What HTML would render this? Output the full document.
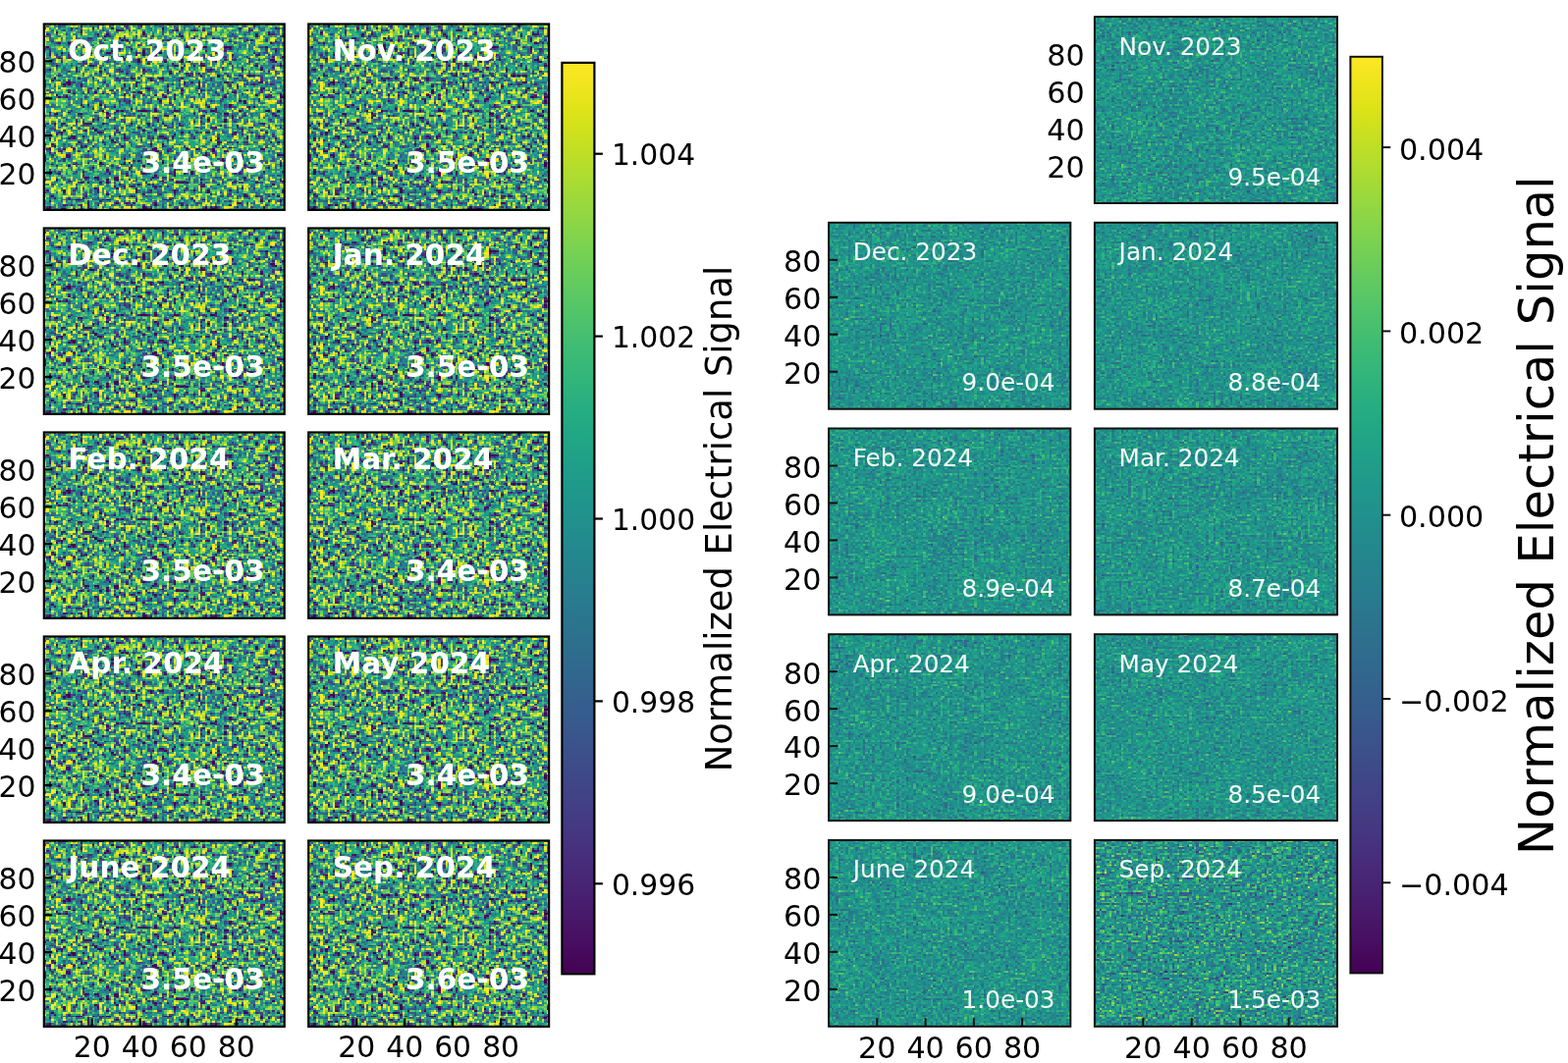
<!DOCTYPE html>
<html><head><meta charset="utf-8"><title>Normalized Electrical Signal</title>
<style>html,body{margin:0;padding:0;background:#fff;overflow:hidden}svg{display:block}</style></head><body>
<svg width="1597" height="1083" viewBox="0 0 1597 1083">
<defs><linearGradient id="slx" gradientUnits="userSpaceOnUse" x1="0" y1="0" x2="2.4490" y2="0" spreadMethod="repeat"><stop offset="0" stop-color="rgb(255,0,0)"/><stop offset="1" stop-color="rgb(0,0,0)"/></linearGradient>
<linearGradient id="sly" gradientUnits="userSpaceOnUse" x1="0" y1="0" x2="0" y2="1.8940" spreadMethod="repeat"><stop offset="0" stop-color="rgb(0,226,0)"/><stop offset="1" stop-color="rgb(0,29,0)"/></linearGradient><linearGradient id="srx" gradientUnits="userSpaceOnUse" x1="0" y1="0" x2="2.4660" y2="0" spreadMethod="repeat"><stop offset="0" stop-color="rgb(255,0,0)"/><stop offset="1" stop-color="rgb(0,0,0)"/></linearGradient>
<linearGradient id="sry" gradientUnits="userSpaceOnUse" x1="0" y1="0" x2="0" y2="1.8990" spreadMethod="repeat"><stop offset="0" stop-color="rgb(0,226,0)"/><stop offset="1" stop-color="rgb(0,29,0)"/></linearGradient><filter id="nl" x="0" y="0" width="244.9" height="189.4" filterUnits="userSpaceOnUse" color-interpolation-filters="sRGB">
<feTurbulence type="fractalNoise" baseFrequency="0.25 0.22" numOctaves="2" seed="7" result="n"/>
<feColorMatrix in="n" type="matrix" values="1 0 0 0 0  0 0 0 0 0  0 0 0 0 0  0 0 0 0 1" result="n1"/>
<feDisplacementMap in="n1" in2="SourceGraphic" scale="2.4490" xChannelSelector="R" yChannelSelector="G" result="d"/>
<feTurbulence type="fractalNoise" baseFrequency="0.03 0.04" numOctaves="2" seed="57" result="l"/>
<feColorMatrix in="l" type="matrix" values="0 0 0 0 0  1 0 0 0 0  0 0 0 0 0  0 0 0 0 1" result="l1"/>
<feComposite in="d" in2="l1" operator="arithmetic" k1="0" k2="1" k3="1" k4="0" result="c"/>
<feColorMatrix in="c" type="matrix" values="2.6 0.35 0 0 -0.9150  2.6 0.35 0 0 -0.9150  2.6 0.35 0 0 -0.9150  0 0 0 0 1"/>
<feComponentTransfer><feFuncR type="table" tableValues="0.267 0.277 0.282 0.283 0.279 0.271 0.259 0.245 0.230 0.214 0.199 0.186 0.173 0.161 0.149 0.138 0.128 0.121 0.121 0.132 0.158 0.197 0.246 0.304 0.369 0.440 0.516 0.596 0.678 0.762 0.846 0.926 0.993"/><feFuncG type="table" tableValues="0.005 0.050 0.095 0.136 0.175 0.214 0.252 0.288 0.322 0.356 0.388 0.419 0.449 0.479 0.508 0.537 0.567 0.596 0.626 0.655 0.684 0.712 0.739 0.765 0.789 0.811 0.831 0.849 0.864 0.876 0.887 0.897 0.906"/><feFuncB type="table" tableValues="0.329 0.376 0.417 0.453 0.483 0.507 0.525 0.537 0.546 0.551 0.555 0.557 0.558 0.558 0.557 0.555 0.551 0.544 0.533 0.520 0.502 0.479 0.452 0.420 0.383 0.341 0.294 0.243 0.190 0.137 0.100 0.104 0.144"/></feComponentTransfer><feGaussianBlur stdDeviation="0.3"/>
</filter><filter id="nr1" x="0" y="0" width="247.1" height="189.9" filterUnits="userSpaceOnUse" color-interpolation-filters="sRGB">
<feTurbulence type="fractalNoise" baseFrequency="0.29 0.37" numOctaves="2" seed="12" result="n"/>
<feColorMatrix in="n" type="matrix" values="1 0 0 0 0  0 0 0 0 0  0 0 0 0 0  0 0 0 0 1" result="n1"/>
<feDisplacementMap in="n1" in2="SourceGraphic" scale="2.4660" xChannelSelector="R" yChannelSelector="G" result="d"/>
<feTurbulence type="fractalNoise" baseFrequency="0.03 0.04" numOctaves="2" seed="62" result="l"/>
<feColorMatrix in="l" type="matrix" values="0 0 0 0 0  1 0 0 0 0  0 0 0 0 0  0 0 0 0 1" result="l1"/>
<feComposite in="d" in2="l1" operator="arithmetic" k1="0" k2="1" k3="1" k4="0" result="c"/>
<feColorMatrix in="c" type="matrix" values="0.718 0.12 0 0 0.0960  0.718 0.12 0 0 0.0960  0.718 0.12 0 0 0.0960  0 0 0 0 1"/>
<feComponentTransfer><feFuncR type="table" tableValues="0.267 0.277 0.282 0.283 0.279 0.271 0.259 0.245 0.230 0.214 0.199 0.186 0.173 0.161 0.149 0.138 0.128 0.121 0.121 0.132 0.158 0.197 0.246 0.304 0.369 0.440 0.516 0.596 0.678 0.762 0.846 0.926 0.993"/><feFuncG type="table" tableValues="0.005 0.050 0.095 0.136 0.175 0.214 0.252 0.288 0.322 0.356 0.388 0.419 0.449 0.479 0.508 0.537 0.567 0.596 0.626 0.655 0.684 0.712 0.739 0.765 0.789 0.811 0.831 0.849 0.864 0.876 0.887 0.897 0.906"/><feFuncB type="table" tableValues="0.329 0.376 0.417 0.453 0.483 0.507 0.525 0.537 0.546 0.551 0.555 0.557 0.558 0.558 0.557 0.555 0.551 0.544 0.533 0.520 0.502 0.479 0.452 0.420 0.383 0.341 0.294 0.243 0.190 0.137 0.100 0.104 0.144"/></feComponentTransfer><feGaussianBlur stdDeviation="0.6"/>
</filter><filter id="nr2" x="0" y="0" width="246.2" height="189.9" filterUnits="userSpaceOnUse" color-interpolation-filters="sRGB">
<feTurbulence type="fractalNoise" baseFrequency="0.29 0.37" numOctaves="2" seed="13" result="n"/>
<feColorMatrix in="n" type="matrix" values="1 0 0 0 0  0 0 0 0 0  0 0 0 0 0  0 0 0 0 1" result="n1"/>
<feDisplacementMap in="n1" in2="SourceGraphic" scale="2.4660" xChannelSelector="R" yChannelSelector="G" result="d"/>
<feTurbulence type="fractalNoise" baseFrequency="0.03 0.04" numOctaves="2" seed="63" result="l"/>
<feColorMatrix in="l" type="matrix" values="0 0 0 0 0  1 0 0 0 0  0 0 0 0 0  0 0 0 0 1" result="l1"/>
<feComposite in="d" in2="l1" operator="arithmetic" k1="0" k2="1" k3="1" k4="0" result="c"/>
<feColorMatrix in="c" type="matrix" values="0.68 0.12 0 0 0.1150  0.68 0.12 0 0 0.1150  0.68 0.12 0 0 0.1150  0 0 0 0 1"/>
<feComponentTransfer><feFuncR type="table" tableValues="0.267 0.277 0.282 0.283 0.279 0.271 0.259 0.245 0.230 0.214 0.199 0.186 0.173 0.161 0.149 0.138 0.128 0.121 0.121 0.132 0.158 0.197 0.246 0.304 0.369 0.440 0.516 0.596 0.678 0.762 0.846 0.926 0.993"/><feFuncG type="table" tableValues="0.005 0.050 0.095 0.136 0.175 0.214 0.252 0.288 0.322 0.356 0.388 0.419 0.449 0.479 0.508 0.537 0.567 0.596 0.626 0.655 0.684 0.712 0.739 0.765 0.789 0.811 0.831 0.849 0.864 0.876 0.887 0.897 0.906"/><feFuncB type="table" tableValues="0.329 0.376 0.417 0.453 0.483 0.507 0.525 0.537 0.546 0.551 0.555 0.557 0.558 0.558 0.557 0.555 0.551 0.544 0.533 0.520 0.502 0.479 0.452 0.420 0.383 0.341 0.294 0.243 0.190 0.137 0.100 0.104 0.144"/></feComponentTransfer><feGaussianBlur stdDeviation="0.6"/>
</filter><filter id="nr3" x="0" y="0" width="247.1" height="189.9" filterUnits="userSpaceOnUse" color-interpolation-filters="sRGB">
<feTurbulence type="fractalNoise" baseFrequency="0.29 0.37" numOctaves="2" seed="14" result="n"/>
<feColorMatrix in="n" type="matrix" values="1 0 0 0 0  0 0 0 0 0  0 0 0 0 0  0 0 0 0 1" result="n1"/>
<feDisplacementMap in="n1" in2="SourceGraphic" scale="2.4660" xChannelSelector="R" yChannelSelector="G" result="d"/>
<feTurbulence type="fractalNoise" baseFrequency="0.03 0.04" numOctaves="2" seed="64" result="l"/>
<feColorMatrix in="l" type="matrix" values="0 0 0 0 0  1 0 0 0 0  0 0 0 0 0  0 0 0 0 1" result="l1"/>
<feComposite in="d" in2="l1" operator="arithmetic" k1="0" k2="1" k3="1" k4="0" result="c"/>
<feColorMatrix in="c" type="matrix" values="0.665 0.12 0 0 0.1225  0.665 0.12 0 0 0.1225  0.665 0.12 0 0 0.1225  0 0 0 0 1"/>
<feComponentTransfer><feFuncR type="table" tableValues="0.267 0.277 0.282 0.283 0.279 0.271 0.259 0.245 0.230 0.214 0.199 0.186 0.173 0.161 0.149 0.138 0.128 0.121 0.121 0.132 0.158 0.197 0.246 0.304 0.369 0.440 0.516 0.596 0.678 0.762 0.846 0.926 0.993"/><feFuncG type="table" tableValues="0.005 0.050 0.095 0.136 0.175 0.214 0.252 0.288 0.322 0.356 0.388 0.419 0.449 0.479 0.508 0.537 0.567 0.596 0.626 0.655 0.684 0.712 0.739 0.765 0.789 0.811 0.831 0.849 0.864 0.876 0.887 0.897 0.906"/><feFuncB type="table" tableValues="0.329 0.376 0.417 0.453 0.483 0.507 0.525 0.537 0.546 0.551 0.555 0.557 0.558 0.558 0.557 0.555 0.551 0.544 0.533 0.520 0.502 0.479 0.452 0.420 0.383 0.341 0.294 0.243 0.190 0.137 0.100 0.104 0.144"/></feComponentTransfer><feGaussianBlur stdDeviation="0.6"/>
</filter><filter id="nr4" x="0" y="0" width="246.2" height="189.9" filterUnits="userSpaceOnUse" color-interpolation-filters="sRGB">
<feTurbulence type="fractalNoise" baseFrequency="0.29 0.37" numOctaves="2" seed="15" result="n"/>
<feColorMatrix in="n" type="matrix" values="1 0 0 0 0  0 0 0 0 0  0 0 0 0 0  0 0 0 0 1" result="n1"/>
<feDisplacementMap in="n1" in2="SourceGraphic" scale="2.4660" xChannelSelector="R" yChannelSelector="G" result="d"/>
<feTurbulence type="fractalNoise" baseFrequency="0.03 0.04" numOctaves="2" seed="65" result="l"/>
<feColorMatrix in="l" type="matrix" values="0 0 0 0 0  1 0 0 0 0  0 0 0 0 0  0 0 0 0 1" result="l1"/>
<feComposite in="d" in2="l1" operator="arithmetic" k1="0" k2="1" k3="1" k4="0" result="c"/>
<feColorMatrix in="c" type="matrix" values="0.672 0.12 0 0 0.1190  0.672 0.12 0 0 0.1190  0.672 0.12 0 0 0.1190  0 0 0 0 1"/>
<feComponentTransfer><feFuncR type="table" tableValues="0.267 0.277 0.282 0.283 0.279 0.271 0.259 0.245 0.230 0.214 0.199 0.186 0.173 0.161 0.149 0.138 0.128 0.121 0.121 0.132 0.158 0.197 0.246 0.304 0.369 0.440 0.516 0.596 0.678 0.762 0.846 0.926 0.993"/><feFuncG type="table" tableValues="0.005 0.050 0.095 0.136 0.175 0.214 0.252 0.288 0.322 0.356 0.388 0.419 0.449 0.479 0.508 0.537 0.567 0.596 0.626 0.655 0.684 0.712 0.739 0.765 0.789 0.811 0.831 0.849 0.864 0.876 0.887 0.897 0.906"/><feFuncB type="table" tableValues="0.329 0.376 0.417 0.453 0.483 0.507 0.525 0.537 0.546 0.551 0.555 0.557 0.558 0.558 0.557 0.555 0.551 0.544 0.533 0.520 0.502 0.479 0.452 0.420 0.383 0.341 0.294 0.243 0.190 0.137 0.100 0.104 0.144"/></feComponentTransfer><feGaussianBlur stdDeviation="0.6"/>
</filter><filter id="nr5" x="0" y="0" width="247.1" height="189.9" filterUnits="userSpaceOnUse" color-interpolation-filters="sRGB">
<feTurbulence type="fractalNoise" baseFrequency="0.29 0.37" numOctaves="2" seed="16" result="n"/>
<feColorMatrix in="n" type="matrix" values="1 0 0 0 0  0 0 0 0 0  0 0 0 0 0  0 0 0 0 1" result="n1"/>
<feDisplacementMap in="n1" in2="SourceGraphic" scale="2.4660" xChannelSelector="R" yChannelSelector="G" result="d"/>
<feTurbulence type="fractalNoise" baseFrequency="0.03 0.04" numOctaves="2" seed="66" result="l"/>
<feColorMatrix in="l" type="matrix" values="0 0 0 0 0  1 0 0 0 0  0 0 0 0 0  0 0 0 0 1" result="l1"/>
<feComposite in="d" in2="l1" operator="arithmetic" k1="0" k2="1" k3="1" k4="0" result="c"/>
<feColorMatrix in="c" type="matrix" values="0.657 0.12 0 0 0.1265  0.657 0.12 0 0 0.1265  0.657 0.12 0 0 0.1265  0 0 0 0 1"/>
<feComponentTransfer><feFuncR type="table" tableValues="0.267 0.277 0.282 0.283 0.279 0.271 0.259 0.245 0.230 0.214 0.199 0.186 0.173 0.161 0.149 0.138 0.128 0.121 0.121 0.132 0.158 0.197 0.246 0.304 0.369 0.440 0.516 0.596 0.678 0.762 0.846 0.926 0.993"/><feFuncG type="table" tableValues="0.005 0.050 0.095 0.136 0.175 0.214 0.252 0.288 0.322 0.356 0.388 0.419 0.449 0.479 0.508 0.537 0.567 0.596 0.626 0.655 0.684 0.712 0.739 0.765 0.789 0.811 0.831 0.849 0.864 0.876 0.887 0.897 0.906"/><feFuncB type="table" tableValues="0.329 0.376 0.417 0.453 0.483 0.507 0.525 0.537 0.546 0.551 0.555 0.557 0.558 0.558 0.557 0.555 0.551 0.544 0.533 0.520 0.502 0.479 0.452 0.420 0.383 0.341 0.294 0.243 0.190 0.137 0.100 0.104 0.144"/></feComponentTransfer><feGaussianBlur stdDeviation="0.6"/>
</filter><filter id="nr6" x="0" y="0" width="246.2" height="189.9" filterUnits="userSpaceOnUse" color-interpolation-filters="sRGB">
<feTurbulence type="fractalNoise" baseFrequency="0.29 0.37" numOctaves="2" seed="17" result="n"/>
<feColorMatrix in="n" type="matrix" values="1 0 0 0 0  0 0 0 0 0  0 0 0 0 0  0 0 0 0 1" result="n1"/>
<feDisplacementMap in="n1" in2="SourceGraphic" scale="2.4660" xChannelSelector="R" yChannelSelector="G" result="d"/>
<feTurbulence type="fractalNoise" baseFrequency="0.03 0.04" numOctaves="2" seed="67" result="l"/>
<feColorMatrix in="l" type="matrix" values="0 0 0 0 0  1 0 0 0 0  0 0 0 0 0  0 0 0 0 1" result="l1"/>
<feComposite in="d" in2="l1" operator="arithmetic" k1="0" k2="1" k3="1" k4="0" result="c"/>
<feColorMatrix in="c" type="matrix" values="0.68 0.12 0 0 0.1150  0.68 0.12 0 0 0.1150  0.68 0.12 0 0 0.1150  0 0 0 0 1"/>
<feComponentTransfer><feFuncR type="table" tableValues="0.267 0.277 0.282 0.283 0.279 0.271 0.259 0.245 0.230 0.214 0.199 0.186 0.173 0.161 0.149 0.138 0.128 0.121 0.121 0.132 0.158 0.197 0.246 0.304 0.369 0.440 0.516 0.596 0.678 0.762 0.846 0.926 0.993"/><feFuncG type="table" tableValues="0.005 0.050 0.095 0.136 0.175 0.214 0.252 0.288 0.322 0.356 0.388 0.419 0.449 0.479 0.508 0.537 0.567 0.596 0.626 0.655 0.684 0.712 0.739 0.765 0.789 0.811 0.831 0.849 0.864 0.876 0.887 0.897 0.906"/><feFuncB type="table" tableValues="0.329 0.376 0.417 0.453 0.483 0.507 0.525 0.537 0.546 0.551 0.555 0.557 0.558 0.558 0.557 0.555 0.551 0.544 0.533 0.520 0.502 0.479 0.452 0.420 0.383 0.341 0.294 0.243 0.190 0.137 0.100 0.104 0.144"/></feComponentTransfer><feGaussianBlur stdDeviation="0.6"/>
</filter><filter id="nr7" x="0" y="0" width="247.1" height="189.9" filterUnits="userSpaceOnUse" color-interpolation-filters="sRGB">
<feTurbulence type="fractalNoise" baseFrequency="0.29 0.37" numOctaves="2" seed="18" result="n"/>
<feColorMatrix in="n" type="matrix" values="1 0 0 0 0  0 0 0 0 0  0 0 0 0 0  0 0 0 0 1" result="n1"/>
<feDisplacementMap in="n1" in2="SourceGraphic" scale="2.4660" xChannelSelector="R" yChannelSelector="G" result="d"/>
<feTurbulence type="fractalNoise" baseFrequency="0.03 0.04" numOctaves="2" seed="68" result="l"/>
<feColorMatrix in="l" type="matrix" values="0 0 0 0 0  1 0 0 0 0  0 0 0 0 0  0 0 0 0 1" result="l1"/>
<feComposite in="d" in2="l1" operator="arithmetic" k1="0" k2="1" k3="1" k4="0" result="c"/>
<feColorMatrix in="c" type="matrix" values="0.642 0.12 0 0 0.1340  0.642 0.12 0 0 0.1340  0.642 0.12 0 0 0.1340  0 0 0 0 1"/>
<feComponentTransfer><feFuncR type="table" tableValues="0.267 0.277 0.282 0.283 0.279 0.271 0.259 0.245 0.230 0.214 0.199 0.186 0.173 0.161 0.149 0.138 0.128 0.121 0.121 0.132 0.158 0.197 0.246 0.304 0.369 0.440 0.516 0.596 0.678 0.762 0.846 0.926 0.993"/><feFuncG type="table" tableValues="0.005 0.050 0.095 0.136 0.175 0.214 0.252 0.288 0.322 0.356 0.388 0.419 0.449 0.479 0.508 0.537 0.567 0.596 0.626 0.655 0.684 0.712 0.739 0.765 0.789 0.811 0.831 0.849 0.864 0.876 0.887 0.897 0.906"/><feFuncB type="table" tableValues="0.329 0.376 0.417 0.453 0.483 0.507 0.525 0.537 0.546 0.551 0.555 0.557 0.558 0.558 0.557 0.555 0.551 0.544 0.533 0.520 0.502 0.479 0.452 0.420 0.383 0.341 0.294 0.243 0.190 0.137 0.100 0.104 0.144"/></feComponentTransfer><feGaussianBlur stdDeviation="0.6"/>
</filter><filter id="nr8" x="0" y="0" width="246.2" height="189.9" filterUnits="userSpaceOnUse" color-interpolation-filters="sRGB">
<feTurbulence type="fractalNoise" baseFrequency="0.29 0.37" numOctaves="2" seed="19" result="n"/>
<feColorMatrix in="n" type="matrix" values="1 0 0 0 0  0 0 0 0 0  0 0 0 0 0  0 0 0 0 1" result="n1"/>
<feDisplacementMap in="n1" in2="SourceGraphic" scale="2.4660" xChannelSelector="R" yChannelSelector="G" result="d"/>
<feTurbulence type="fractalNoise" baseFrequency="0.03 0.04" numOctaves="2" seed="69" result="l"/>
<feColorMatrix in="l" type="matrix" values="0 0 0 0 0  1 0 0 0 0  0 0 0 0 0  0 0 0 0 1" result="l1"/>
<feComposite in="d" in2="l1" operator="arithmetic" k1="0" k2="1" k3="1" k4="0" result="c"/>
<feColorMatrix in="c" type="matrix" values="0.756 0.12 0 0 0.0770  0.756 0.12 0 0 0.0770  0.756 0.12 0 0 0.0770  0 0 0 0 1"/>
<feComponentTransfer><feFuncR type="table" tableValues="0.267 0.277 0.282 0.283 0.279 0.271 0.259 0.245 0.230 0.214 0.199 0.186 0.173 0.161 0.149 0.138 0.128 0.121 0.121 0.132 0.158 0.197 0.246 0.304 0.369 0.440 0.516 0.596 0.678 0.762 0.846 0.926 0.993"/><feFuncG type="table" tableValues="0.005 0.050 0.095 0.136 0.175 0.214 0.252 0.288 0.322 0.356 0.388 0.419 0.449 0.479 0.508 0.537 0.567 0.596 0.626 0.655 0.684 0.712 0.739 0.765 0.789 0.811 0.831 0.849 0.864 0.876 0.887 0.897 0.906"/><feFuncB type="table" tableValues="0.329 0.376 0.417 0.453 0.483 0.507 0.525 0.537 0.546 0.551 0.555 0.557 0.558 0.558 0.557 0.555 0.551 0.544 0.533 0.520 0.502 0.479 0.452 0.420 0.383 0.341 0.294 0.243 0.190 0.137 0.100 0.104 0.144"/></feComponentTransfer><feGaussianBlur stdDeviation="0.6"/>
</filter><filter id="nr9" x="0" y="0" width="247.1" height="189.9" filterUnits="userSpaceOnUse" color-interpolation-filters="sRGB">
<feTurbulence type="fractalNoise" baseFrequency="0.29 0.37" numOctaves="2" seed="20" result="n"/>
<feColorMatrix in="n" type="matrix" values="1 0 0 0 0  0 0 0 0 0  0 0 0 0 0  0 0 0 0 1" result="n1"/>
<feDisplacementMap in="n1" in2="SourceGraphic" scale="2.4660" xChannelSelector="R" yChannelSelector="G" result="d"/>
<feTurbulence type="fractalNoise" baseFrequency="0.03 0.04" numOctaves="2" seed="70" result="l"/>
<feColorMatrix in="l" type="matrix" values="0 0 0 0 0  1 0 0 0 0  0 0 0 0 0  0 0 0 0 1" result="l1"/>
<feComposite in="d" in2="l1" operator="arithmetic" k1="0" k2="1" k3="1" k4="0" result="c"/>
<feColorMatrix in="c" type="matrix" values="1.133 0.12 0 0 -0.1115  1.133 0.12 0 0 -0.1115  1.133 0.12 0 0 -0.1115  0 0 0 0 1"/>
<feComponentTransfer><feFuncR type="table" tableValues="0.267 0.277 0.282 0.283 0.279 0.271 0.259 0.245 0.230 0.214 0.199 0.186 0.173 0.161 0.149 0.138 0.128 0.121 0.121 0.132 0.158 0.197 0.246 0.304 0.369 0.440 0.516 0.596 0.678 0.762 0.846 0.926 0.993"/><feFuncG type="table" tableValues="0.005 0.050 0.095 0.136 0.175 0.214 0.252 0.288 0.322 0.356 0.388 0.419 0.449 0.479 0.508 0.537 0.567 0.596 0.626 0.655 0.684 0.712 0.739 0.765 0.789 0.811 0.831 0.849 0.864 0.876 0.887 0.897 0.906"/><feFuncB type="table" tableValues="0.329 0.376 0.417 0.453 0.483 0.507 0.525 0.537 0.546 0.551 0.555 0.557 0.558 0.558 0.557 0.555 0.551 0.544 0.533 0.520 0.502 0.479 0.452 0.420 0.383 0.341 0.294 0.243 0.190 0.137 0.100 0.104 0.144"/></feComponentTransfer><feGaussianBlur stdDeviation="0.6"/>
</filter><linearGradient id="cb" x1="0" y1="0" x2="0" y2="1"><stop offset="0.0000" stop-color="#fde725"/><stop offset="0.0312" stop-color="#ece51b"/><stop offset="0.0625" stop-color="#d8e219"/><stop offset="0.0938" stop-color="#c2df23"/><stop offset="0.1250" stop-color="#addc30"/><stop offset="0.1562" stop-color="#98d83e"/><stop offset="0.1875" stop-color="#84d44b"/><stop offset="0.2188" stop-color="#70cf57"/><stop offset="0.2500" stop-color="#5ec962"/><stop offset="0.2812" stop-color="#4ec36b"/><stop offset="0.3125" stop-color="#3fbc73"/><stop offset="0.3438" stop-color="#32b67a"/><stop offset="0.3750" stop-color="#28ae80"/><stop offset="0.4062" stop-color="#22a785"/><stop offset="0.4375" stop-color="#1fa088"/><stop offset="0.4688" stop-color="#1f988b"/><stop offset="0.5000" stop-color="#21918c"/><stop offset="0.5312" stop-color="#23898e"/><stop offset="0.5625" stop-color="#26828e"/><stop offset="0.5938" stop-color="#297a8e"/><stop offset="0.6250" stop-color="#2c728e"/><stop offset="0.6562" stop-color="#2f6b8e"/><stop offset="0.6875" stop-color="#33638d"/><stop offset="0.7188" stop-color="#375b8d"/><stop offset="0.7500" stop-color="#3b528b"/><stop offset="0.7812" stop-color="#3e4989"/><stop offset="0.8125" stop-color="#424086"/><stop offset="0.8438" stop-color="#453781"/><stop offset="0.8750" stop-color="#472d7b"/><stop offset="0.9062" stop-color="#482374"/><stop offset="0.9375" stop-color="#48186a"/><stop offset="0.9688" stop-color="#470d60"/><stop offset="1.0000" stop-color="#440154"/></linearGradient></defs>
<g transform="translate(44.80,24.50)"><rect width="244.9" height="189.4" fill="#56966c"/><g filter="url(#nl)"><rect width="244.9" height="189.4" fill="url(#slx)"/><rect width="244.9" height="189.4" fill="url(#sly)" style="mix-blend-mode:screen"/></g><rect width="244.9" height="189.4" fill="none" stroke="#000" stroke-width="2.2"/></g>
<text x="69.3" y="62.0" font-family="'DejaVu Sans','Liberation Sans',sans-serif" font-weight="bold" font-size="29.6" fill="#fff">Oct. 2023</text>
<text x="269.5" y="176.1" font-family="'DejaVu Sans','Liberation Sans',sans-serif" font-weight="bold" font-size="29.6" fill="#fff" text-anchor="end">3.4e-03</text>
<line x1="44.8" x2="53.2" y1="176.0" y2="176.0" stroke="#000" stroke-width="2.2"/>
<text x="36.5" y="187.5" font-family="'DejaVu Sans','Liberation Sans',sans-serif" font-size="29.8" text-anchor="end">20</text>
<line x1="44.8" x2="53.2" y1="138.1" y2="138.1" stroke="#000" stroke-width="2.2"/>
<text x="36.5" y="149.6" font-family="'DejaVu Sans','Liberation Sans',sans-serif" font-size="29.8" text-anchor="end">40</text>
<line x1="44.8" x2="53.2" y1="100.3" y2="100.3" stroke="#000" stroke-width="2.2"/>
<text x="36.5" y="111.8" font-family="'DejaVu Sans','Liberation Sans',sans-serif" font-size="29.8" text-anchor="end">60</text>
<line x1="44.8" x2="53.2" y1="62.4" y2="62.4" stroke="#000" stroke-width="2.2"/>
<text x="36.5" y="73.9" font-family="'DejaVu Sans','Liberation Sans',sans-serif" font-size="29.8" text-anchor="end">80</text>
<g transform="translate(314.20,24.50)"><rect width="244.9" height="189.4" fill="#56966c"/><g filter="url(#nl)"><rect width="244.9" height="189.4" fill="url(#slx)"/><rect width="244.9" height="189.4" fill="url(#sly)" style="mix-blend-mode:screen"/></g><rect width="244.9" height="189.4" fill="none" stroke="#000" stroke-width="2.2"/></g>
<text x="338.7" y="62.0" font-family="'DejaVu Sans','Liberation Sans',sans-serif" font-weight="bold" font-size="29.6" fill="#fff">Nov. 2023</text>
<text x="538.9" y="176.1" font-family="'DejaVu Sans','Liberation Sans',sans-serif" font-weight="bold" font-size="29.6" fill="#fff" text-anchor="end">3.5e-03</text>
<g transform="translate(44.80,232.50)"><rect width="244.9" height="189.4" fill="#56966c"/><g filter="url(#nl)"><rect width="244.9" height="189.4" fill="url(#slx)"/><rect width="244.9" height="189.4" fill="url(#sly)" style="mix-blend-mode:screen"/></g><rect width="244.9" height="189.4" fill="none" stroke="#000" stroke-width="2.2"/></g>
<text x="69.3" y="270.0" font-family="'DejaVu Sans','Liberation Sans',sans-serif" font-weight="bold" font-size="29.6" fill="#fff">Dec. 2023</text>
<text x="269.5" y="384.1" font-family="'DejaVu Sans','Liberation Sans',sans-serif" font-weight="bold" font-size="29.6" fill="#fff" text-anchor="end">3.5e-03</text>
<line x1="44.8" x2="53.2" y1="384.0" y2="384.0" stroke="#000" stroke-width="2.2"/>
<text x="36.5" y="395.5" font-family="'DejaVu Sans','Liberation Sans',sans-serif" font-size="29.8" text-anchor="end">20</text>
<line x1="44.8" x2="53.2" y1="346.1" y2="346.1" stroke="#000" stroke-width="2.2"/>
<text x="36.5" y="357.6" font-family="'DejaVu Sans','Liberation Sans',sans-serif" font-size="29.8" text-anchor="end">40</text>
<line x1="44.8" x2="53.2" y1="308.3" y2="308.3" stroke="#000" stroke-width="2.2"/>
<text x="36.5" y="319.8" font-family="'DejaVu Sans','Liberation Sans',sans-serif" font-size="29.8" text-anchor="end">60</text>
<line x1="44.8" x2="53.2" y1="270.4" y2="270.4" stroke="#000" stroke-width="2.2"/>
<text x="36.5" y="281.9" font-family="'DejaVu Sans','Liberation Sans',sans-serif" font-size="29.8" text-anchor="end">80</text>
<g transform="translate(314.20,232.50)"><rect width="244.9" height="189.4" fill="#56966c"/><g filter="url(#nl)"><rect width="244.9" height="189.4" fill="url(#slx)"/><rect width="244.9" height="189.4" fill="url(#sly)" style="mix-blend-mode:screen"/></g><rect width="244.9" height="189.4" fill="none" stroke="#000" stroke-width="2.2"/></g>
<text x="338.7" y="270.0" font-family="'DejaVu Sans','Liberation Sans',sans-serif" font-weight="bold" font-size="29.6" fill="#fff">Jan. 2024</text>
<text x="538.9" y="384.1" font-family="'DejaVu Sans','Liberation Sans',sans-serif" font-weight="bold" font-size="29.6" fill="#fff" text-anchor="end">3.5e-03</text>
<g transform="translate(44.80,440.50)"><rect width="244.9" height="189.4" fill="#56966c"/><g filter="url(#nl)"><rect width="244.9" height="189.4" fill="url(#slx)"/><rect width="244.9" height="189.4" fill="url(#sly)" style="mix-blend-mode:screen"/></g><rect width="244.9" height="189.4" fill="none" stroke="#000" stroke-width="2.2"/></g>
<text x="69.3" y="478.0" font-family="'DejaVu Sans','Liberation Sans',sans-serif" font-weight="bold" font-size="29.6" fill="#fff">Feb. 2024</text>
<text x="269.5" y="592.1" font-family="'DejaVu Sans','Liberation Sans',sans-serif" font-weight="bold" font-size="29.6" fill="#fff" text-anchor="end">3.5e-03</text>
<line x1="44.8" x2="53.2" y1="592.0" y2="592.0" stroke="#000" stroke-width="2.2"/>
<text x="36.5" y="603.5" font-family="'DejaVu Sans','Liberation Sans',sans-serif" font-size="29.8" text-anchor="end">20</text>
<line x1="44.8" x2="53.2" y1="554.1" y2="554.1" stroke="#000" stroke-width="2.2"/>
<text x="36.5" y="565.6" font-family="'DejaVu Sans','Liberation Sans',sans-serif" font-size="29.8" text-anchor="end">40</text>
<line x1="44.8" x2="53.2" y1="516.3" y2="516.3" stroke="#000" stroke-width="2.2"/>
<text x="36.5" y="527.8" font-family="'DejaVu Sans','Liberation Sans',sans-serif" font-size="29.8" text-anchor="end">60</text>
<line x1="44.8" x2="53.2" y1="478.4" y2="478.4" stroke="#000" stroke-width="2.2"/>
<text x="36.5" y="489.9" font-family="'DejaVu Sans','Liberation Sans',sans-serif" font-size="29.8" text-anchor="end">80</text>
<g transform="translate(314.20,440.50)"><rect width="244.9" height="189.4" fill="#56966c"/><g filter="url(#nl)"><rect width="244.9" height="189.4" fill="url(#slx)"/><rect width="244.9" height="189.4" fill="url(#sly)" style="mix-blend-mode:screen"/></g><rect width="244.9" height="189.4" fill="none" stroke="#000" stroke-width="2.2"/></g>
<text x="338.7" y="478.0" font-family="'DejaVu Sans','Liberation Sans',sans-serif" font-weight="bold" font-size="29.6" fill="#fff">Mar. 2024</text>
<text x="538.9" y="592.1" font-family="'DejaVu Sans','Liberation Sans',sans-serif" font-weight="bold" font-size="29.6" fill="#fff" text-anchor="end">3.4e-03</text>
<g transform="translate(44.80,648.50)"><rect width="244.9" height="189.4" fill="#56966c"/><g filter="url(#nl)"><rect width="244.9" height="189.4" fill="url(#slx)"/><rect width="244.9" height="189.4" fill="url(#sly)" style="mix-blend-mode:screen"/></g><rect width="244.9" height="189.4" fill="none" stroke="#000" stroke-width="2.2"/></g>
<text x="69.3" y="686.0" font-family="'DejaVu Sans','Liberation Sans',sans-serif" font-weight="bold" font-size="29.6" fill="#fff">Apr. 2024</text>
<text x="269.5" y="800.1" font-family="'DejaVu Sans','Liberation Sans',sans-serif" font-weight="bold" font-size="29.6" fill="#fff" text-anchor="end">3.4e-03</text>
<line x1="44.8" x2="53.2" y1="800.0" y2="800.0" stroke="#000" stroke-width="2.2"/>
<text x="36.5" y="811.5" font-family="'DejaVu Sans','Liberation Sans',sans-serif" font-size="29.8" text-anchor="end">20</text>
<line x1="44.8" x2="53.2" y1="762.1" y2="762.1" stroke="#000" stroke-width="2.2"/>
<text x="36.5" y="773.6" font-family="'DejaVu Sans','Liberation Sans',sans-serif" font-size="29.8" text-anchor="end">40</text>
<line x1="44.8" x2="53.2" y1="724.3" y2="724.3" stroke="#000" stroke-width="2.2"/>
<text x="36.5" y="735.8" font-family="'DejaVu Sans','Liberation Sans',sans-serif" font-size="29.8" text-anchor="end">60</text>
<line x1="44.8" x2="53.2" y1="686.4" y2="686.4" stroke="#000" stroke-width="2.2"/>
<text x="36.5" y="697.9" font-family="'DejaVu Sans','Liberation Sans',sans-serif" font-size="29.8" text-anchor="end">80</text>
<g transform="translate(314.20,648.50)"><rect width="244.9" height="189.4" fill="#56966c"/><g filter="url(#nl)"><rect width="244.9" height="189.4" fill="url(#slx)"/><rect width="244.9" height="189.4" fill="url(#sly)" style="mix-blend-mode:screen"/></g><rect width="244.9" height="189.4" fill="none" stroke="#000" stroke-width="2.2"/></g>
<text x="338.7" y="686.0" font-family="'DejaVu Sans','Liberation Sans',sans-serif" font-weight="bold" font-size="29.6" fill="#fff">May 2024</text>
<text x="538.9" y="800.1" font-family="'DejaVu Sans','Liberation Sans',sans-serif" font-weight="bold" font-size="29.6" fill="#fff" text-anchor="end">3.4e-03</text>
<g transform="translate(44.80,856.50)"><rect width="244.9" height="189.4" fill="#56966c"/><g filter="url(#nl)"><rect width="244.9" height="189.4" fill="url(#slx)"/><rect width="244.9" height="189.4" fill="url(#sly)" style="mix-blend-mode:screen"/></g><rect width="244.9" height="189.4" fill="none" stroke="#000" stroke-width="2.2"/></g>
<text x="69.3" y="894.0" font-family="'DejaVu Sans','Liberation Sans',sans-serif" font-weight="bold" font-size="29.6" fill="#fff">June 2024</text>
<text x="269.5" y="1008.1" font-family="'DejaVu Sans','Liberation Sans',sans-serif" font-weight="bold" font-size="29.6" fill="#fff" text-anchor="end">3.5e-03</text>
<line x1="44.8" x2="53.2" y1="1008.0" y2="1008.0" stroke="#000" stroke-width="2.2"/>
<text x="36.5" y="1019.5" font-family="'DejaVu Sans','Liberation Sans',sans-serif" font-size="29.8" text-anchor="end">20</text>
<line x1="44.8" x2="53.2" y1="970.1" y2="970.1" stroke="#000" stroke-width="2.2"/>
<text x="36.5" y="981.6" font-family="'DejaVu Sans','Liberation Sans',sans-serif" font-size="29.8" text-anchor="end">40</text>
<line x1="44.8" x2="53.2" y1="932.3" y2="932.3" stroke="#000" stroke-width="2.2"/>
<text x="36.5" y="943.8" font-family="'DejaVu Sans','Liberation Sans',sans-serif" font-size="29.8" text-anchor="end">60</text>
<line x1="44.8" x2="53.2" y1="894.4" y2="894.4" stroke="#000" stroke-width="2.2"/>
<text x="36.5" y="905.9" font-family="'DejaVu Sans','Liberation Sans',sans-serif" font-size="29.8" text-anchor="end">80</text>
<line x1="93.8" x2="93.8" y1="1045.9" y2="1037.5" stroke="#000" stroke-width="2.2"/>
<text x="93.8" y="1077.2" font-family="'DejaVu Sans','Liberation Sans',sans-serif" font-size="29.8" text-anchor="middle">20</text>
<line x1="142.8" x2="142.8" y1="1045.9" y2="1037.5" stroke="#000" stroke-width="2.2"/>
<text x="142.8" y="1077.2" font-family="'DejaVu Sans','Liberation Sans',sans-serif" font-size="29.8" text-anchor="middle">40</text>
<line x1="191.7" x2="191.7" y1="1045.9" y2="1037.5" stroke="#000" stroke-width="2.2"/>
<text x="191.7" y="1077.2" font-family="'DejaVu Sans','Liberation Sans',sans-serif" font-size="29.8" text-anchor="middle">60</text>
<line x1="240.7" x2="240.7" y1="1045.9" y2="1037.5" stroke="#000" stroke-width="2.2"/>
<text x="240.7" y="1077.2" font-family="'DejaVu Sans','Liberation Sans',sans-serif" font-size="29.8" text-anchor="middle">80</text>
<g transform="translate(314.20,856.50)"><rect width="244.9" height="189.4" fill="#56966c"/><g filter="url(#nl)"><rect width="244.9" height="189.4" fill="url(#slx)"/><rect width="244.9" height="189.4" fill="url(#sly)" style="mix-blend-mode:screen"/></g><rect width="244.9" height="189.4" fill="none" stroke="#000" stroke-width="2.2"/></g>
<text x="338.7" y="894.0" font-family="'DejaVu Sans','Liberation Sans',sans-serif" font-weight="bold" font-size="29.6" fill="#fff">Sep. 2024</text>
<text x="538.9" y="1008.1" font-family="'DejaVu Sans','Liberation Sans',sans-serif" font-weight="bold" font-size="29.6" fill="#fff" text-anchor="end">3.6e-03</text>
<line x1="363.2" x2="363.2" y1="1045.9" y2="1037.5" stroke="#000" stroke-width="2.2"/>
<text x="363.2" y="1077.2" font-family="'DejaVu Sans','Liberation Sans',sans-serif" font-size="29.8" text-anchor="middle">20</text>
<line x1="412.2" x2="412.2" y1="1045.9" y2="1037.5" stroke="#000" stroke-width="2.2"/>
<text x="412.2" y="1077.2" font-family="'DejaVu Sans','Liberation Sans',sans-serif" font-size="29.8" text-anchor="middle">40</text>
<line x1="461.1" x2="461.1" y1="1045.9" y2="1037.5" stroke="#000" stroke-width="2.2"/>
<text x="461.1" y="1077.2" font-family="'DejaVu Sans','Liberation Sans',sans-serif" font-size="29.8" text-anchor="middle">60</text>
<line x1="510.1" x2="510.1" y1="1045.9" y2="1037.5" stroke="#000" stroke-width="2.2"/>
<text x="510.1" y="1077.2" font-family="'DejaVu Sans','Liberation Sans',sans-serif" font-size="29.8" text-anchor="middle">80</text>
<rect x="572.4" y="63.9" width="33.0" height="928.4" fill="url(#cb)" stroke="#000" stroke-width="2.2"/>
<line x1="605.4" x2="613.9" y1="156.7" y2="156.7" stroke="#000" stroke-width="2.2"/>
<text x="622.9" y="168.0" font-family="'DejaVu Sans','Liberation Sans',sans-serif" font-size="29.8">1.004</text>
<line x1="605.4" x2="613.9" y1="342.6" y2="342.6" stroke="#000" stroke-width="2.2"/>
<text x="622.9" y="353.9" font-family="'DejaVu Sans','Liberation Sans',sans-serif" font-size="29.8">1.002</text>
<line x1="605.4" x2="613.9" y1="528.5" y2="528.5" stroke="#000" stroke-width="2.2"/>
<text x="622.9" y="539.8" font-family="'DejaVu Sans','Liberation Sans',sans-serif" font-size="29.8">1.000</text>
<line x1="605.4" x2="613.9" y1="714.4" y2="714.4" stroke="#000" stroke-width="2.2"/>
<text x="622.9" y="725.7" font-family="'DejaVu Sans','Liberation Sans',sans-serif" font-size="29.8">0.998</text>
<line x1="605.4" x2="613.9" y1="900.3" y2="900.3" stroke="#000" stroke-width="2.2"/>
<text x="622.9" y="911.6" font-family="'DejaVu Sans','Liberation Sans',sans-serif" font-size="29.8">0.996</text>
<text transform="translate(745,528.55) rotate(-90)" font-family="'DejaVu Sans','Liberation Sans',sans-serif" font-size="36.9" text-anchor="middle">Normalized Electrical Signal</text>
<g transform="translate(1114.90,17.10)"><rect width="247.1" height="189.9" fill="#26948a"/><g filter="url(#nr1)"><rect width="247.1" height="189.9" fill="url(#srx)"/><rect width="247.1" height="189.9" fill="url(#sry)" style="mix-blend-mode:screen"/></g><rect width="247.1" height="189.9" fill="none" stroke="#111" stroke-width="2.0"/></g>
<text transform="translate(1139.6,55.6) scale(1.03,1)" font-family="'DejaVu Sans','Liberation Sans',sans-serif" font-size="24" fill="#f4fbf6">Nov. 2023</text>
<text transform="translate(1345.3,188.6) scale(1.03,1)" font-family="'DejaVu Sans','Liberation Sans',sans-serif" font-size="24" text-anchor="end" fill="#f4fbf6">9.5e-04</text>
<text x="1104.6" y="181.3" font-family="'DejaVu Sans','Liberation Sans',sans-serif" font-size="30.2" text-anchor="end">20</text>
<text x="1104.6" y="143.3" font-family="'DejaVu Sans','Liberation Sans',sans-serif" font-size="30.2" text-anchor="end">40</text>
<text x="1104.6" y="105.4" font-family="'DejaVu Sans','Liberation Sans',sans-serif" font-size="30.2" text-anchor="end">60</text>
<text x="1104.6" y="67.4" font-family="'DejaVu Sans','Liberation Sans',sans-serif" font-size="30.2" text-anchor="end">80</text>
<g transform="translate(844.10,226.80)"><rect width="246.2" height="189.9" fill="#26948a"/><g filter="url(#nr2)"><rect width="246.2" height="189.9" fill="url(#srx)"/><rect width="246.2" height="189.9" fill="url(#sry)" style="mix-blend-mode:screen"/></g><rect width="246.2" height="189.9" fill="none" stroke="#111" stroke-width="2.0"/></g>
<text transform="translate(868.7,265.3) scale(1.03,1)" font-family="'DejaVu Sans','Liberation Sans',sans-serif" font-size="24" fill="#f4fbf6">Dec. 2023</text>
<text transform="translate(1074.5,398.3) scale(1.03,1)" font-family="'DejaVu Sans','Liberation Sans',sans-serif" font-size="24" text-anchor="end" fill="#f4fbf6">9.0e-04</text>
<line x1="844.1" x2="853.1" y1="378.7" y2="378.7" stroke="#111" stroke-width="2"/>
<text x="836.4" y="391.0" font-family="'DejaVu Sans','Liberation Sans',sans-serif" font-size="30.2" text-anchor="end">20</text>
<line x1="844.1" x2="853.1" y1="340.7" y2="340.7" stroke="#111" stroke-width="2"/>
<text x="836.4" y="353.0" font-family="'DejaVu Sans','Liberation Sans',sans-serif" font-size="30.2" text-anchor="end">40</text>
<line x1="844.1" x2="853.1" y1="302.8" y2="302.8" stroke="#111" stroke-width="2"/>
<text x="836.4" y="315.1" font-family="'DejaVu Sans','Liberation Sans',sans-serif" font-size="30.2" text-anchor="end">60</text>
<line x1="844.1" x2="853.1" y1="264.8" y2="264.8" stroke="#111" stroke-width="2"/>
<text x="836.4" y="277.1" font-family="'DejaVu Sans','Liberation Sans',sans-serif" font-size="30.2" text-anchor="end">80</text>
<g transform="translate(1114.90,226.80)"><rect width="247.1" height="189.9" fill="#26948a"/><g filter="url(#nr3)"><rect width="247.1" height="189.9" fill="url(#srx)"/><rect width="247.1" height="189.9" fill="url(#sry)" style="mix-blend-mode:screen"/></g><rect width="247.1" height="189.9" fill="none" stroke="#111" stroke-width="2.0"/></g>
<text transform="translate(1139.6,265.3) scale(1.03,1)" font-family="'DejaVu Sans','Liberation Sans',sans-serif" font-size="24" fill="#f4fbf6">Jan. 2024</text>
<text transform="translate(1345.3,398.3) scale(1.03,1)" font-family="'DejaVu Sans','Liberation Sans',sans-serif" font-size="24" text-anchor="end" fill="#f4fbf6">8.8e-04</text>
<g transform="translate(844.10,436.50)"><rect width="246.2" height="189.9" fill="#26948a"/><g filter="url(#nr4)"><rect width="246.2" height="189.9" fill="url(#srx)"/><rect width="246.2" height="189.9" fill="url(#sry)" style="mix-blend-mode:screen"/></g><rect width="246.2" height="189.9" fill="none" stroke="#111" stroke-width="2.0"/></g>
<text transform="translate(868.7,475.0) scale(1.03,1)" font-family="'DejaVu Sans','Liberation Sans',sans-serif" font-size="24" fill="#f4fbf6">Feb. 2024</text>
<text transform="translate(1074.5,608.0) scale(1.03,1)" font-family="'DejaVu Sans','Liberation Sans',sans-serif" font-size="24" text-anchor="end" fill="#f4fbf6">8.9e-04</text>
<line x1="844.1" x2="853.1" y1="588.4" y2="588.4" stroke="#111" stroke-width="2"/>
<text x="836.4" y="600.7" font-family="'DejaVu Sans','Liberation Sans',sans-serif" font-size="30.2" text-anchor="end">20</text>
<line x1="844.1" x2="853.1" y1="550.4" y2="550.4" stroke="#111" stroke-width="2"/>
<text x="836.4" y="562.7" font-family="'DejaVu Sans','Liberation Sans',sans-serif" font-size="30.2" text-anchor="end">40</text>
<line x1="844.1" x2="853.1" y1="512.5" y2="512.5" stroke="#111" stroke-width="2"/>
<text x="836.4" y="524.8" font-family="'DejaVu Sans','Liberation Sans',sans-serif" font-size="30.2" text-anchor="end">60</text>
<line x1="844.1" x2="853.1" y1="474.5" y2="474.5" stroke="#111" stroke-width="2"/>
<text x="836.4" y="486.8" font-family="'DejaVu Sans','Liberation Sans',sans-serif" font-size="30.2" text-anchor="end">80</text>
<g transform="translate(1114.90,436.50)"><rect width="247.1" height="189.9" fill="#26948a"/><g filter="url(#nr5)"><rect width="247.1" height="189.9" fill="url(#srx)"/><rect width="247.1" height="189.9" fill="url(#sry)" style="mix-blend-mode:screen"/></g><rect width="247.1" height="189.9" fill="none" stroke="#111" stroke-width="2.0"/></g>
<text transform="translate(1139.6,475.0) scale(1.03,1)" font-family="'DejaVu Sans','Liberation Sans',sans-serif" font-size="24" fill="#f4fbf6">Mar. 2024</text>
<text transform="translate(1345.3,608.0) scale(1.03,1)" font-family="'DejaVu Sans','Liberation Sans',sans-serif" font-size="24" text-anchor="end" fill="#f4fbf6">8.7e-04</text>
<g transform="translate(844.10,646.20)"><rect width="246.2" height="189.9" fill="#26948a"/><g filter="url(#nr6)"><rect width="246.2" height="189.9" fill="url(#srx)"/><rect width="246.2" height="189.9" fill="url(#sry)" style="mix-blend-mode:screen"/></g><rect width="246.2" height="189.9" fill="none" stroke="#111" stroke-width="2.0"/></g>
<text transform="translate(868.7,684.7) scale(1.03,1)" font-family="'DejaVu Sans','Liberation Sans',sans-serif" font-size="24" fill="#f4fbf6">Apr. 2024</text>
<text transform="translate(1074.5,817.7) scale(1.03,1)" font-family="'DejaVu Sans','Liberation Sans',sans-serif" font-size="24" text-anchor="end" fill="#f4fbf6">9.0e-04</text>
<line x1="844.1" x2="853.1" y1="798.1" y2="798.1" stroke="#111" stroke-width="2"/>
<text x="836.4" y="810.4" font-family="'DejaVu Sans','Liberation Sans',sans-serif" font-size="30.2" text-anchor="end">20</text>
<line x1="844.1" x2="853.1" y1="760.1" y2="760.1" stroke="#111" stroke-width="2"/>
<text x="836.4" y="772.4" font-family="'DejaVu Sans','Liberation Sans',sans-serif" font-size="30.2" text-anchor="end">40</text>
<line x1="844.1" x2="853.1" y1="722.2" y2="722.2" stroke="#111" stroke-width="2"/>
<text x="836.4" y="734.5" font-family="'DejaVu Sans','Liberation Sans',sans-serif" font-size="30.2" text-anchor="end">60</text>
<line x1="844.1" x2="853.1" y1="684.2" y2="684.2" stroke="#111" stroke-width="2"/>
<text x="836.4" y="696.5" font-family="'DejaVu Sans','Liberation Sans',sans-serif" font-size="30.2" text-anchor="end">80</text>
<g transform="translate(1114.90,646.20)"><rect width="247.1" height="189.9" fill="#26948a"/><g filter="url(#nr7)"><rect width="247.1" height="189.9" fill="url(#srx)"/><rect width="247.1" height="189.9" fill="url(#sry)" style="mix-blend-mode:screen"/></g><rect width="247.1" height="189.9" fill="none" stroke="#111" stroke-width="2.0"/></g>
<text transform="translate(1139.6,684.7) scale(1.03,1)" font-family="'DejaVu Sans','Liberation Sans',sans-serif" font-size="24" fill="#f4fbf6">May 2024</text>
<text transform="translate(1345.3,817.7) scale(1.03,1)" font-family="'DejaVu Sans','Liberation Sans',sans-serif" font-size="24" text-anchor="end" fill="#f4fbf6">8.5e-04</text>
<g transform="translate(844.10,855.90)"><rect width="246.2" height="189.9" fill="#26948a"/><g filter="url(#nr8)"><rect width="246.2" height="189.9" fill="url(#srx)"/><rect width="246.2" height="189.9" fill="url(#sry)" style="mix-blend-mode:screen"/></g><rect width="246.2" height="189.9" fill="none" stroke="#111" stroke-width="2.0"/></g>
<text transform="translate(868.7,894.4) scale(1.03,1)" font-family="'DejaVu Sans','Liberation Sans',sans-serif" font-size="24" fill="#f4fbf6">June 2024</text>
<text transform="translate(1074.5,1027.4) scale(1.03,1)" font-family="'DejaVu Sans','Liberation Sans',sans-serif" font-size="24" text-anchor="end" fill="#f4fbf6">1.0e-03</text>
<line x1="844.1" x2="853.1" y1="1007.8" y2="1007.8" stroke="#111" stroke-width="2"/>
<text x="836.4" y="1020.1" font-family="'DejaVu Sans','Liberation Sans',sans-serif" font-size="30.2" text-anchor="end">20</text>
<line x1="844.1" x2="853.1" y1="969.8" y2="969.8" stroke="#111" stroke-width="2"/>
<text x="836.4" y="982.1" font-family="'DejaVu Sans','Liberation Sans',sans-serif" font-size="30.2" text-anchor="end">40</text>
<line x1="844.1" x2="853.1" y1="931.9" y2="931.9" stroke="#111" stroke-width="2"/>
<text x="836.4" y="944.2" font-family="'DejaVu Sans','Liberation Sans',sans-serif" font-size="30.2" text-anchor="end">60</text>
<line x1="844.1" x2="853.1" y1="893.9" y2="893.9" stroke="#111" stroke-width="2"/>
<text x="836.4" y="906.2" font-family="'DejaVu Sans','Liberation Sans',sans-serif" font-size="30.2" text-anchor="end">80</text>
<line x1="893.3" x2="893.3" y1="1045.8" y2="1037.2" stroke="#111" stroke-width="2"/>
<text x="893.3" y="1078.1" font-family="'DejaVu Sans','Liberation Sans',sans-serif" font-size="30.2" text-anchor="middle">20</text>
<line x1="942.6" x2="942.6" y1="1045.8" y2="1037.2" stroke="#111" stroke-width="2"/>
<text x="942.6" y="1078.1" font-family="'DejaVu Sans','Liberation Sans',sans-serif" font-size="30.2" text-anchor="middle">40</text>
<line x1="991.8" x2="991.8" y1="1045.8" y2="1037.2" stroke="#111" stroke-width="2"/>
<text x="991.8" y="1078.1" font-family="'DejaVu Sans','Liberation Sans',sans-serif" font-size="30.2" text-anchor="middle">60</text>
<line x1="1041.1" x2="1041.1" y1="1045.8" y2="1037.2" stroke="#111" stroke-width="2"/>
<text x="1041.1" y="1078.1" font-family="'DejaVu Sans','Liberation Sans',sans-serif" font-size="30.2" text-anchor="middle">80</text>
<g transform="translate(1114.90,855.90)"><rect width="247.1" height="189.9" fill="#26948a"/><g filter="url(#nr9)"><rect width="247.1" height="189.9" fill="url(#srx)"/><rect width="247.1" height="189.9" fill="url(#sry)" style="mix-blend-mode:screen"/></g><rect width="247.1" height="189.9" fill="none" stroke="#111" stroke-width="2.0"/></g>
<text transform="translate(1139.6,894.4) scale(1.03,1)" font-family="'DejaVu Sans','Liberation Sans',sans-serif" font-size="24" fill="#f4fbf6">Sep. 2024</text>
<text transform="translate(1345.3,1027.4) scale(1.03,1)" font-family="'DejaVu Sans','Liberation Sans',sans-serif" font-size="24" text-anchor="end" fill="#f4fbf6">1.5e-03</text>
<line x1="1164.3" x2="1164.3" y1="1045.8" y2="1037.2" stroke="#111" stroke-width="2"/>
<text x="1164.3" y="1078.1" font-family="'DejaVu Sans','Liberation Sans',sans-serif" font-size="30.2" text-anchor="middle">20</text>
<line x1="1213.7" x2="1213.7" y1="1045.8" y2="1037.2" stroke="#111" stroke-width="2"/>
<text x="1213.7" y="1078.1" font-family="'DejaVu Sans','Liberation Sans',sans-serif" font-size="30.2" text-anchor="middle">40</text>
<line x1="1263.2" x2="1263.2" y1="1045.8" y2="1037.2" stroke="#111" stroke-width="2"/>
<text x="1263.2" y="1078.1" font-family="'DejaVu Sans','Liberation Sans',sans-serif" font-size="30.2" text-anchor="middle">60</text>
<line x1="1312.6" x2="1312.6" y1="1045.8" y2="1037.2" stroke="#111" stroke-width="2"/>
<text x="1312.6" y="1078.1" font-family="'DejaVu Sans','Liberation Sans',sans-serif" font-size="30.2" text-anchor="middle">80</text>
<rect x="1375.4" y="57.8" width="32.5" height="933.6" fill="url(#cb)" stroke="#111" stroke-width="2.0"/>
<line x1="1407.9" x2="1416.3" y1="150.1" y2="150.1" stroke="#111" stroke-width="2"/>
<text x="1424.9" y="162.6" font-family="'DejaVu Sans','Liberation Sans',sans-serif" font-size="30.2">0.004</text>
<line x1="1407.9" x2="1416.3" y1="337.4" y2="337.4" stroke="#111" stroke-width="2"/>
<text x="1424.9" y="349.9" font-family="'DejaVu Sans','Liberation Sans',sans-serif" font-size="30.2">0.002</text>
<line x1="1407.9" x2="1416.3" y1="524.7" y2="524.7" stroke="#111" stroke-width="2"/>
<text x="1424.9" y="537.2" font-family="'DejaVu Sans','Liberation Sans',sans-serif" font-size="30.2">0.000</text>
<line x1="1407.9" x2="1416.3" y1="712.0" y2="712.0" stroke="#111" stroke-width="2"/>
<text x="1424.9" y="724.5" font-family="'DejaVu Sans','Liberation Sans',sans-serif" font-size="30.2">−0.002</text>
<line x1="1407.9" x2="1416.3" y1="899.3" y2="899.3" stroke="#111" stroke-width="2"/>
<text x="1424.9" y="911.8" font-family="'DejaVu Sans','Liberation Sans',sans-serif" font-size="30.2">−0.004</text>
<text transform="translate(1582,525.0) rotate(-90)" font-family="'DejaVu Sans','Liberation Sans',sans-serif" font-size="49.5" text-anchor="middle">Normalized Electrical Signal</text>
</svg></body></html>
